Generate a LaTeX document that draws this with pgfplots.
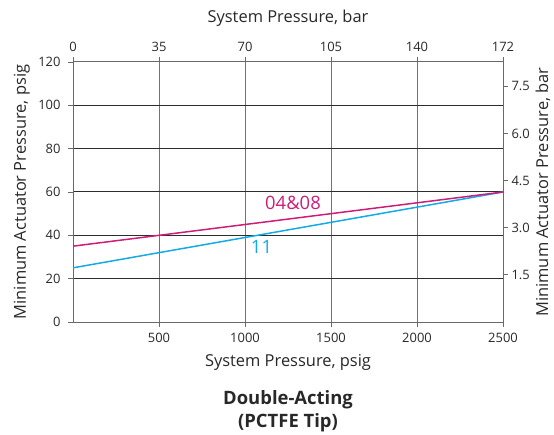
\documentclass[border=0pt]{standalone}
\usepackage{pgfplots}
\pgfplotsset{compat=1.18}
\usepackage{fontspec}
\setmainfont{Open Sans}

\definecolor{gridblack}{RGB}{45,45,45}
\definecolor{gridgray}{RGB}{115,115,115}
\definecolor{axgray}{RGB}{105,105,105}
\definecolor{lineA}{RGB}{204,30,120}
\definecolor{lineB}{RGB}{20,170,230}
\definecolor{txt}{RGB}{40,40,40}

\pgfplotsset{
  common/.style={
    scale only axis, width=430bp, height=260bp,
    at={(73bp,113bp)}, anchor=south west,
    xmin=0, xmax=2500,
    tick align=outside,
    major tick length=5bp,
    tick style={axgray, line width=0.9pt},
    axis line style={axgray, line width=1pt},
    /pgf/number format/assume math mode=true,
    /pgf/number format/set thousands separator={},
    ticklabel style={font=\fontsize{13}{15}\selectfont, text=txt},
    label style={font=\fontsize{16.5}{18}\selectfont, text=txt},
  }
}

\begin{document}
\begin{tikzpicture}
\path[use as bounding box] (0,0) rectangle (554bp,435bp);

% psig scales: bottom and left
\begin{axis}[common,
  ymin=0, ymax=120,
  xtick={500,1000,1500,2000,2500},
  ytick={0,20,40,60,80,100,120},
  axis x line*=bottom, axis y line*=left,
  grid=major,
  major x grid style={gridgray, line width=1pt},
  major y grid style={gridblack, line width=1pt},
  xlabel={System Pressure, psig},
  ylabel={Minimum Actuator Pressure, psig},
  xlabel style={at={(axis description cs:0.5,-0.154)}, anchor=center},
  ylabel style={at={(axis description cs:-0.119,0.5)}, anchor=center},
  xticklabel style={yshift=-3bp},
  yticklabel style={xshift=-4bp},
]
\addplot[lineB, line width=1.5pt] coordinates {(0,25) (2500,60)};
\addplot[lineA, line width=1.5pt] coordinates {(0,35) (2500,60)};
\node[text=lineA, font=\fontsize{18.5}{20}\selectfont] at (axis cs:1279,54.9) {04\&08};
\node[text=lineB, font=\fontsize{18.5}{20}\selectfont] at (axis cs:1096,34.8) {11};
\draw[axgray, line width=1pt] (axis cs:0,120) -- (axis cs:2500,120);
\draw[axgray, line width=1pt] (axis cs:2500,0) -- (axis cs:2500,120);
\end{axis}

% bar scales: top and right
\begin{axis}[common,
  ymin=0, ymax=8.2737,
  axis x line*=top, axis y line*=right,
  xtick={0,500,1000,1500,2000,2500},
  xticklabels={0,35,70,105,140,172},
  ytick={1.5,3.0,4.5,6.0,7.5},
  yticklabel style={/pgf/number format/fixed, /pgf/number format/fixed zerofill, /pgf/number format/precision=1},
  xticklabel style={yshift=2bp},
  xlabel={System Pressure, bar},
  ylabel={Minimum Actuator Pressure, bar},
  xlabel style={at={(axis description cs:0.5,1.169)}, anchor=center},
  ylabel style={at={(axis description cs:1.093,0.5)}, anchor=center, rotate=0},
]
\end{axis}

\node[font=\bfseries\fontsize{18.5}{23.5}\selectfont, text=txt, align=center] at (288bp,23.5bp) {Double-Acting\\(PCTFE Tip)};
\end{tikzpicture}
\end{document}
